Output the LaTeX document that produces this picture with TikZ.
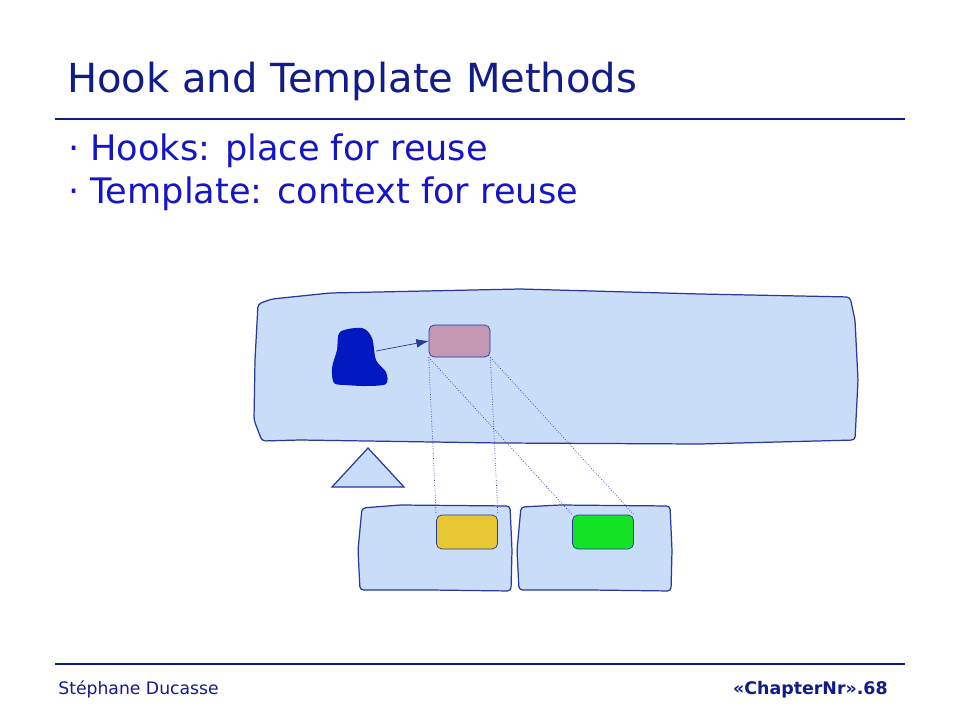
\documentclass[tikz,border=0pt]{standalone}
\usepackage{fontspec}
\setmainfont{DejaVu Sans}
\definecolor{navy}{RGB}{16,28,138}
\definecolor{ink}{RGB}{20,20,200}
\definecolor{edge}{RGB}{40,56,156}
\definecolor{pale}{RGB}{201,221,249}
\definecolor{mauve}{RGB}{196,151,178}
\definecolor{gold}{RGB}{232,200,50}
\definecolor{lime}{RGB}{18,227,36}
\definecolor{blobblue}{RGB}{0,24,192}
\usetikzlibrary{calc,shapes,positioning,arrows.meta}

\begin{document}
\begin{tikzpicture}[x=0.02cm,y=-0.02cm,every node/.style={inner sep=0pt},
        hook/.style={draw=edge,rounded corners=3pt,minimum width=1.22cm,minimum height=0.64cm},
        part/.style={draw=edge,fill=pale,line width=0.7pt,rounded corners=2pt},
        item/.style={anchor=base west,text=ink,font=\fontsize{20}{24}\selectfont},
        link/.style={draw=edge,densely dotted,line width=0.4pt}]
        \useasboundingbox (0,0) rectangle (960,720);
        % title and bullets
        \node[anchor=base west,text=navy,font=\fontsize{22.8}{28}\selectfont] (title) at (67,92) {Hook and Template Methods};
        \draw[navy,line width=1pt] (55,119) -- (905,119);
        \node[item] (d1) at (68,160) {·};
        \node[item] (b1) at (90,160) {Hooks: place for reuse};
        \node[item] (d2) at (68,203) {·};
        \node[item] (b2) at (90,203) {Template: context for reuse};
        % superclass
        \draw[part] (258,304) -- (272,299) -- (330,293) -- (520,289) -- (700,294) -- (850,297) -- (855,320)
                -- (858,380) -- (855,440) -- (700,444) -- (500,443) -- (300,440) -- (262,441) -- (254,420) -- (255,360) -- cycle;
        \fill[blobblue] plot[smooth cycle] coordinates {(340,332) (362,328) (372,338) (376,360) (386,372)
                (386,384) (366,386) (346,385) (334,383) (332,368) (337,350)};
        \coordinate (blob) at (376,351);
        \node[hook,fill=mauve] (hk) at (459.5,341) {};
        \draw[edge,-{Latex[length=7pt,width=5pt]}] (blob) -- (hk.west);
        % inheritance triangle
        \draw[part,rounded corners=0pt] (368,448) -- (404,487) -- (332,487) -- cycle;
        % subclasses
        \draw[part] (362,508) -- (400,505) -- (510,506) -- (512,550) -- (511,591) -- (430,590) -- (360,590) -- (358,550) -- cycle;
        \draw[part] (521,507) -- (560,505) -- (670,506) -- (672,550) -- (671,591) -- (590,590) -- (519,590) -- (517,550) -- cycle;
        \node[hook,fill=gold,minimum height=0.68cm] (h1) at (467,532) {};
        \node[hook,fill=lime,minimum height=0.68cm] (h2) at (603,532) {};
        \draw[link] (hk.south west) -- (h1.north west);
        \draw[link] (hk.south east) -- (h1.north east);
        \draw[link] (hk.south west) -- (h2.north west);
        \draw[link] (hk.south east) -- (h2.north east);
        % footer
        \draw[navy,line width=0.8pt] (55,664) -- (905,664);
        \node[anchor=base west,text=navy,font=\fontsize{9.8}{12}\selectfont] (author) at (58,694) {Stéphane Ducasse};
        \node[anchor=base east,text=navy,font=\fontsize{9.9}{12}\selectfont\bfseries] (page) at (888,694) {«ChapterNr».68};
\end{tikzpicture}
\end{document}
